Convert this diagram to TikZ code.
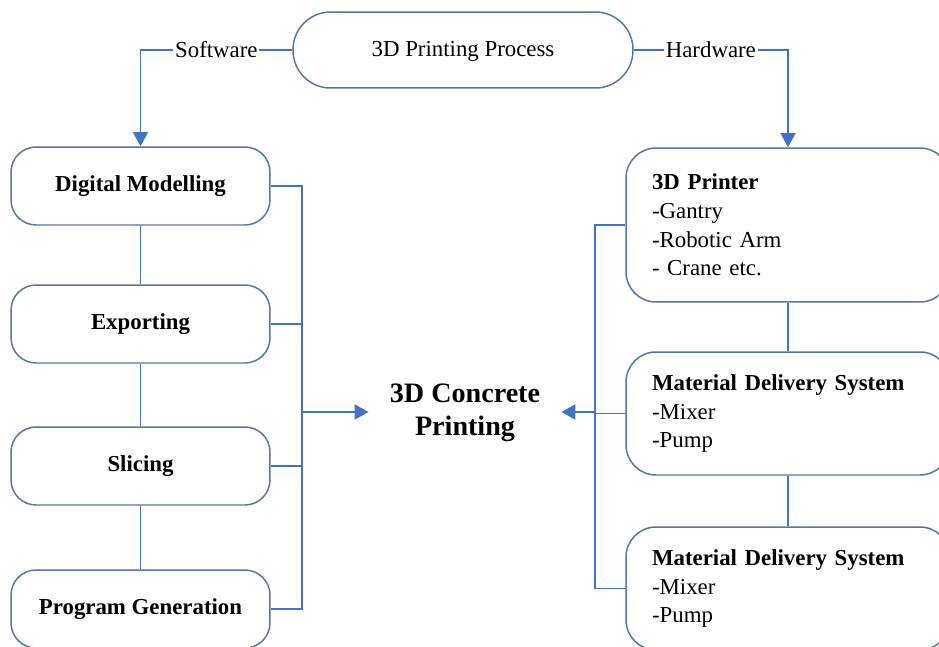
\documentclass[tikz,border=0pt]{standalone}
\usepackage{fontspec}
\setmainfont{Liberation Serif}
\usetikzlibrary{arrows.meta}
\definecolor{boxc}{RGB}{84,118,160}
\definecolor{linec}{RGB}{68,114,196}
\tikzset{
  procbox/.style={draw=boxc, line width=0.85pt, rounded corners=0.75cm, minimum width=6.8cm, minimum height=1.52cm, text depth=0.25ex, font=\fontsize{13}{16}\selectfont},
  softbox/.style={draw=boxc, line width=0.85pt, rounded corners=0.5cm, minimum width=5.18cm, minimum height=1.56cm, font=\fontsize{13}{16.4}\selectfont\bfseries},
  hardbox/.style={draw=boxc, line width=0.85pt, rounded corners=0.6cm, text width=5.44cm, inner xsep=0.52cm, align=left, font=\fontsize{13}{16.4}\selectfont},
  branch/.style={fill=white, inner xsep=1pt, font=\fontsize{13}{16}\selectfont},
  link/.style={draw=linec, line width=0.9pt},
  bus/.style={draw=linec, line width=1.4pt},
  arr/.style={-{Triangle[length=8pt,width=8.5pt]}},
}
\begin{document}
\begin{tikzpicture}[x=0.02cm,y=-0.02cm]
  \useasboundingbox (0,0) rectangle (939,646);
  \node[procbox] (proc) at (463,50) {3D Printing Process};
  \node[softbox] (model) at (140.5,186) {Digital Modelling};
  \node[softbox] (export) at (140.5,324) {Exporting};
  \node[softbox] (slice) at (140.5,466) {Slicing};
  \node[softbox] (prog) at (140.5,609) {Program Generation};
  \node[hardbox, minimum height=3.08cm] (printer) at (788,225)
    {\textbf{3D Printer}\\-Gantry\\-Robotic Arm\\- Crane etc.};
  \node[hardbox, minimum height=2.46cm] (mds1) at (788,413.5)
    {\textbf{Material Delivery System}\\-Mixer\\-Pump};
  \node[hardbox, minimum height=2.46cm] (mds2) at (788,588.5)
    {\textbf{Material Delivery System}\\-Mixer\\-Pump};
  \node[font=\fontsize{16}{18.7}\selectfont\bfseries, align=center, inner xsep=0.42cm] (cp) at (465,413)
    {3D Concrete\\Printing};
  \coordinate (lbus) at (302,412);
  \coordinate (rbus) at (595,412);
  \draw[link, arr] (proc.west) -- node[branch] {Software} (model.north |- proc.west) -- (model.north);
  \draw[link, arr] (proc.east) -- node[branch] {Hardware} (printer.north |- proc.east) -- (printer.north);
  \begin{scope}[link]
    \draw (model) -- (export);
    \draw (export) -- (slice);
    \draw (slice) -- (prog);
    \draw (model.east) -- (model.east -| lbus) -- (prog.east -| lbus) -- (prog.east);
    \draw (export.east) -- (export.east -| lbus);
    \draw (slice.east) -- (slice.east -| lbus);
    \draw (printer.west) -- (printer.west -| rbus) -- (mds2.west -| rbus) -- (mds2.west);
    \draw (mds1.west) -- (mds1.west -| rbus);
  \end{scope}
  \begin{scope}[bus]
    \draw (printer) -- (mds1);
    \draw (mds1) -- (mds2);
    \draw[arr] (lbus) -- (lbus -| cp.west);
    \draw[arr] (rbus) -- (rbus -| cp.east);
  \end{scope}
\end{tikzpicture}
\end{document}
